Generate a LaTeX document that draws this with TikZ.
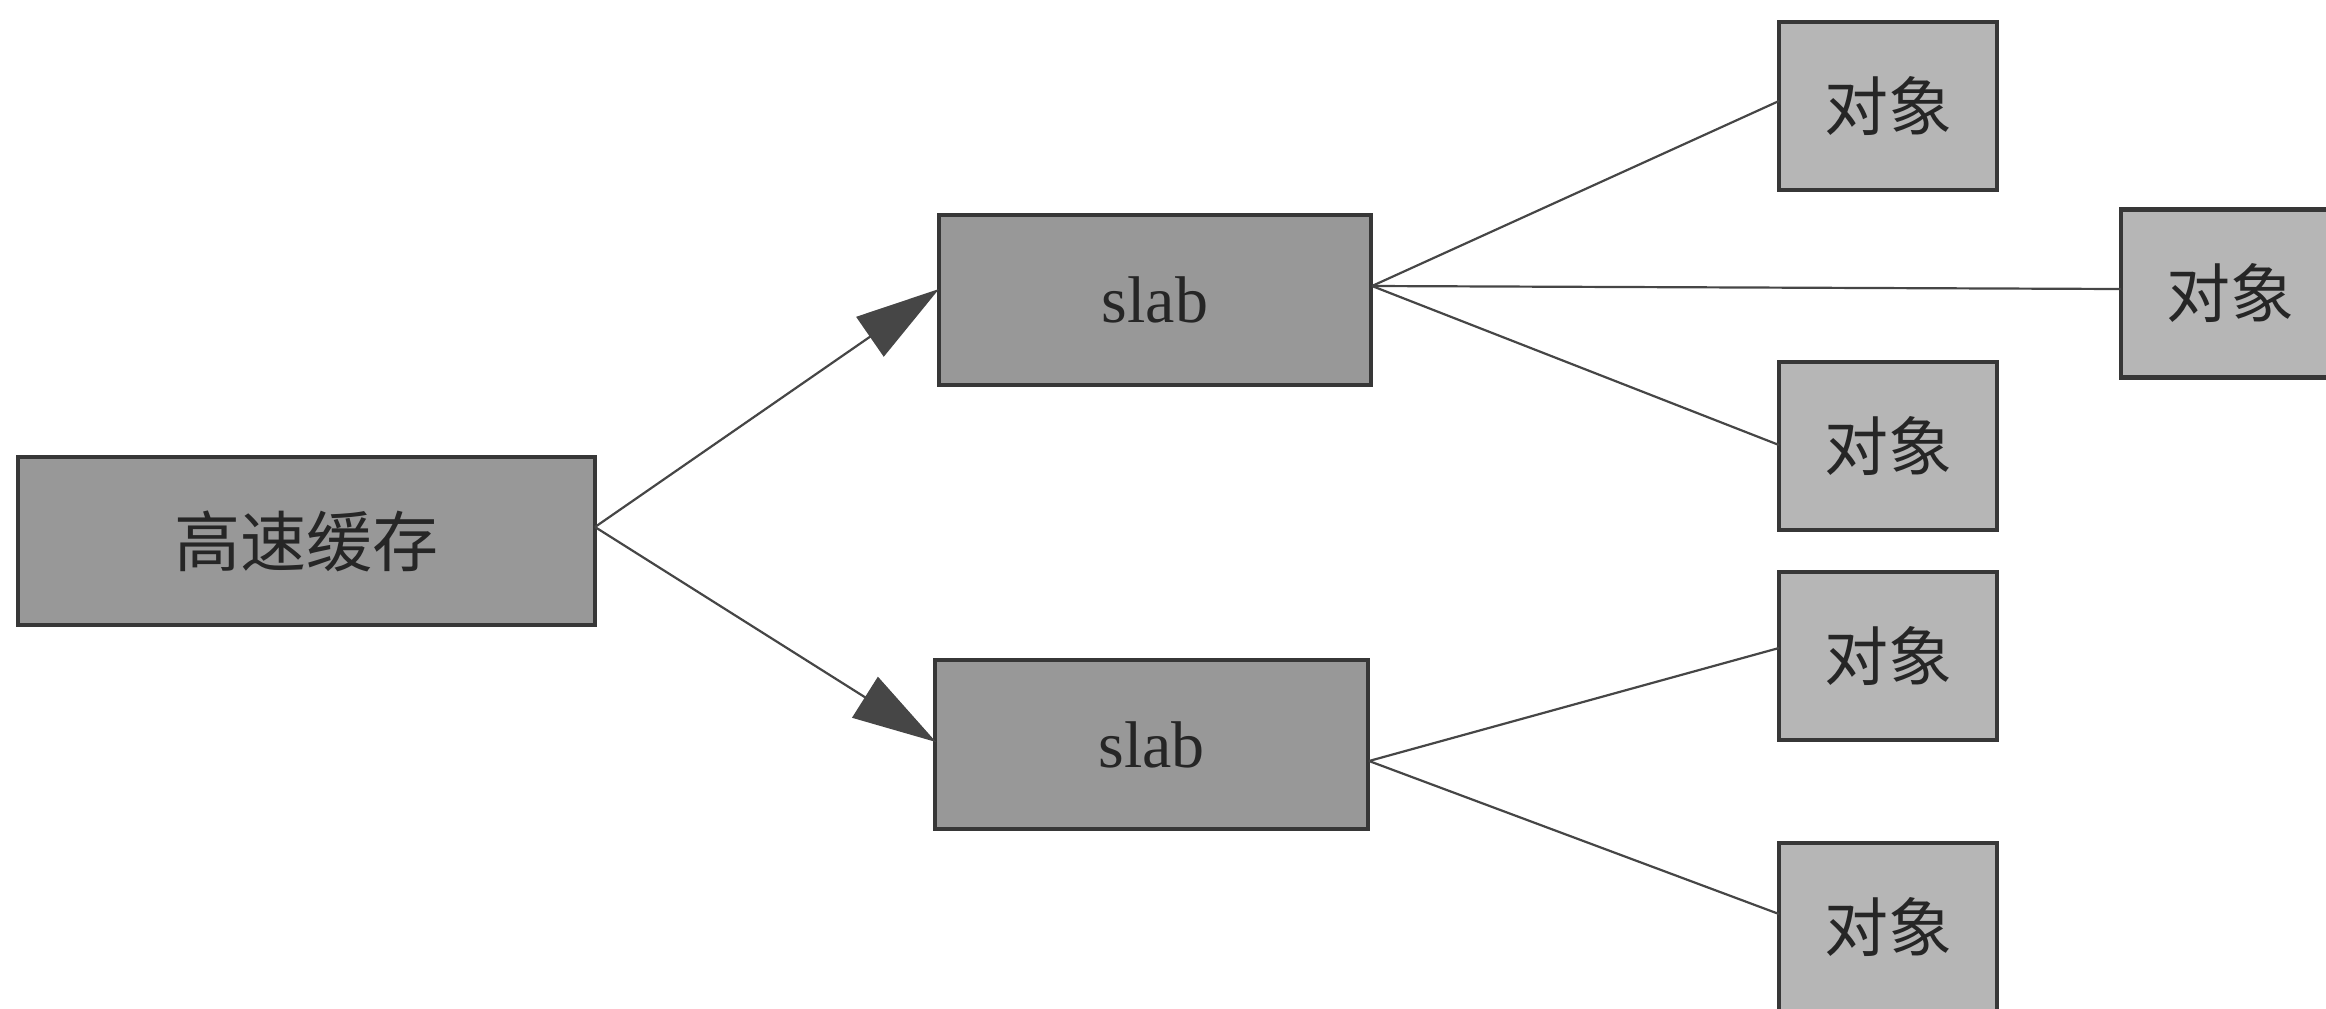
\documentclass[tikz,border=0pt]{standalone}
\usepackage{fontspec}
\setmainfont{Liberation Serif}
\newfontfamily\cjk{Noto Sans CJK SC}
\usetikzlibrary{arrows.meta}
\definecolor{boxdark}{RGB}{152,152,152}
\definecolor{boxlight}{RGB}{182,182,182}
\definecolor{edge}{RGB}{55,55,55}
\definecolor{wire}{RGB}{70,70,70}
\definecolor{ink}{RGB}{38,38,38}
\begin{document}
\begin{tikzpicture}[x=0.5pt,y=-0.5pt,
  box/.style={draw=edge, line width=2.4pt, inner sep=0pt, text=ink, font=\fontsize{33}{37}\selectfont},
  bigbox/.style={box, fill=boxdark},
  objbox/.style={box, fill=boxlight, minimum width=109pt, minimum height=84pt, font=\cjk\fontsize{32}{36}\selectfont},
  link/.style={draw=wire, line width=1.1pt},
  feed/.style={link, -{Triangle[length=42pt,width=24pt]}}]
\useasboundingbox (0,0) rectangle (2326,1008);
\begin{scope}
\clip (0,0) rectangle (2326,1008);
% main boxes
\node[bigbox, minimum width=288.5pt, minimum height=84pt, font=\cjk\fontsize{33}{37}\selectfont] (cache) at (306.5,541) {高速缓存};
\node[bigbox, minimum width=216pt, minimum height=85pt] (slabA) at (1155,300) {slab};
\node[bigbox, minimum width=216.5pt, minimum height=84.5pt] (slabB) at (1151.5,744.5) {slab};
% object boxes
\node[objbox] (objA) at (1888,106) {对象};
\node[objbox] (objR) at (2230,293.5) {对象};
\node[objbox] (objB) at (1888,446) {对象};
\node[objbox] (objC) at (1888,656) {对象};
\node[objbox] (objD) at (1888,927) {对象};
% junction points on box edges
\coordinate (cacheOut) at (595,527);
\coordinate (slabAin) at (939,289);
\coordinate (slabBin) at (936,742);
\coordinate (slabAout) at (1372,286);
\coordinate (slabBout) at (1369,761);
\coordinate (objAin) at (1779,101);
\coordinate (objRin) at (2121,289);
\coordinate (objBin) at (1779,445);
\coordinate (objCin) at (1779,648);
\coordinate (objDin) at (1779,914);
% connectors
\draw[feed] (cacheOut) -- (slabAin);
\draw[feed] (cacheOut) -- (slabBin);
\draw[link] (slabAout) -- (objAin);
\draw[link] (slabAout) -- (objRin);
\draw[link] (slabAout) -- (objBin);
\draw[link] (slabBout) -- (objCin);
\draw[link] (slabBout) -- (objDin);
\end{scope}
\end{tikzpicture}
\end{document}
